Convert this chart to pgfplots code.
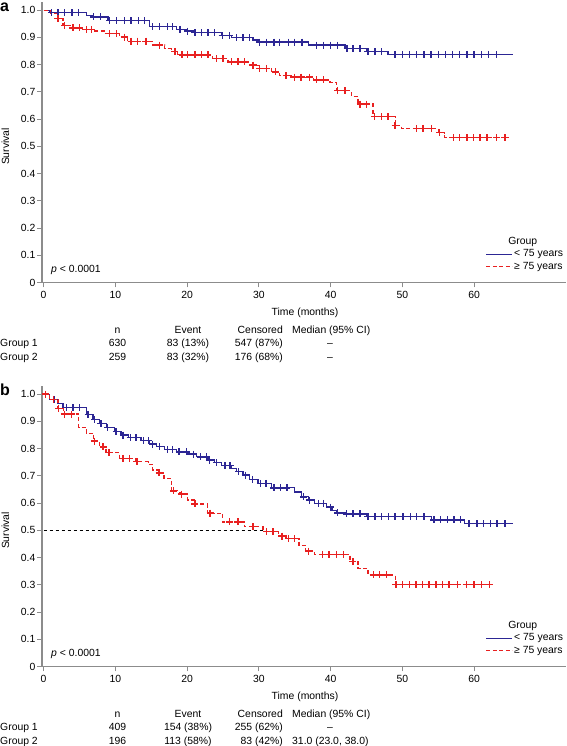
\documentclass[border=0pt]{standalone}
\usepackage{fontspec}
\setmainfont{Liberation Sans}
\usepackage{pgfplots}
\pgfplotsset{compat=1.18}
\definecolor{kmblue}{RGB}{44,38,148}
\definecolor{kmred}{RGB}{232,32,32}
\definecolor{axgray}{RGB}{140,140,140}
\newcommand\lf{\fontsize{10.4}{12.5}\selectfont}

\pgfplotsset{
 kmaxis/.style={
  scale only axis, width=523.9pt, height=280.5pt,
  xmin=-0.2, xmax=72.8, ymin=0, ymax=1.03,
  axis x line*=bottom, axis y line*=left,
  axis line style={axgray, line width=1.8pt, -},
  tick align=outside, major tick length=5pt,
  tick style={axgray, line width=1pt},
  xtick={0,10,20,30,40,50,60}, xticklabels={0,10,20,30,40,50,60},
  ytick={0,0.1,0.2,0.3,0.4,0.5,0.6,0.7,0.8,0.9,1.0},
  yticklabels={0,0.1,0.2,0.3,0.4,0.5,0.6,0.7,0.8,0.9,1.0},
  ticklabel style={font=\lf, inner sep=1.5pt, text=black},
  xticklabel style={yshift=-2pt},
  /pgf/number format/assume math mode=true,
  clip=false,
  legend image code/.code={\draw[#1] (0pt,0pt) -- (26pt,0pt);},
  legend style={draw=none, fill=none, at={(axis description cs:0.997,0.123)}, anchor=north east,
    inner sep=0pt, row sep=0pt, font=\lf, nodes={inner sep=1.2pt, text height=7.6pt, text depth=2.2pt}},
  legend cell align=left,
 },
 bstep/.style={kmblue, line width=1.3pt, const plot, forget plot},
 rstep/.style={kmred, line width=1.3pt, const plot, forget plot, dash pattern=on 4pt off 2.5pt},
 bmark/.style={kmblue, only marks, mark=+, mark size=3.5pt, line width=1.4pt, forget plot},
 rmark/.style={kmred, only marks, mark=+, mark size=3.5pt, line width=1.4pt, forget plot},
}
\tikzset{tbl/.style={font=\lf, inner sep=0pt, text height=7.4pt, text depth=0pt}}

\begin{document}
\begin{tikzpicture}[x=1pt,y=1pt]
\path[use as bounding box] (0,0) rectangle (566,746);

% ---------------- Panel a ----------------
\begin{axis}[kmaxis, at={(42.1pt,463.5pt)}, anchor=south west]
\addplot[bstep] coordinates {(0,1.0) (0.8,0.991) (5.95,0.980) (6.9,0.975) (9.0,0.961) (14.8,0.939) (18.5,0.929) (19.9,0.923) (21.0,0.917) (24.8,0.906) (26.2,0.899) (29.2,0.890) (29.9,0.883) (36.9,0.872) (42.0,0.860) (45.0,0.848) (48.0,0.838) (65.4,0.838)};
\addplot[rstep] coordinates {(0,1.0) (1.0,0.990) (1.9,0.970) (2.7,0.944) (3.9,0.935) (5.5,0.929) (7.0,0.924) (8.5,0.914) (10.6,0.901) (11.7,0.886) (15.2,0.872) (16.9,0.859) (17.8,0.849) (18.7,0.836) (23.5,0.822) (25.7,0.810) (28.7,0.798) (29.9,0.786) (31.8,0.773) (32.9,0.760) (34.5,0.754) (37.6,0.744) (39.9,0.734) (40.8,0.704) (42.9,0.683) (43.8,0.655) (45.9,0.609) (49.0,0.576) (49.9,0.566) (55.0,0.550) (55.9,0.532) (64.3,0.532)};
\addplot[bmark] coordinates {(1.1,0.991) (2.0,0.991) (2.9,0.991) (3.95,0.991) (4.9,0.991) (7.0,0.975) (7.95,0.975) (9.2,0.961) (10.2,0.961) (11.3,0.961) (12.2,0.961) (13.2,0.961) (14.1,0.961) (15.2,0.939) (16.2,0.939) (17.3,0.939) (18.0,0.939) (19.0,0.929) (20.1,0.923) (21.1,0.917) (22.0,0.917) (22.9,0.917) (23.85,0.917) (24.9,0.906) (25.9,0.906) (26.9,0.899) (27.8,0.899) (28.7,0.899) (30.1,0.883) (31.1,0.883) (32.1,0.883) (32.9,0.883) (34.1,0.883) (35.0,0.883) (36.0,0.883) (38.0,0.872) (39.0,0.872) (40.0,0.872) (41.0,0.872) (42.3,0.860) (43.1,0.860) (44.1,0.860) (45.2,0.848) (46.2,0.848) (47.1,0.848) (49,0.838) (50,0.838) (51,0.838) (52,0.838) (53,0.838) (54,0.838) (55,0.838) (56,0.838) (57,0.838) (58,0.838) (59,0.838) (60,0.838) (61,0.838) (62,0.838) (63.1,0.838)};
\addplot[rmark] coordinates {(2.0,0.970) (2.9,0.944) (4.1,0.935) (5.0,0.935) (5.95,0.929) (6.7,0.929) (9.2,0.914) (10.2,0.914) (11.3,0.901) (12.2,0.886) (13.1,0.886) (14.3,0.886) (16.2,0.872) (18.3,0.849) (19.3,0.836) (20.1,0.836) (21.1,0.836) (22.0,0.836) (22.9,0.836) (24.1,0.822) (25.0,0.822) (26.2,0.810) (27.1,0.810) (28.0,0.810) (29.2,0.798) (30.1,0.786) (31.1,0.786) (32.3,0.773) (33.8,0.760) (35.0,0.754) (35.9,0.754) (37.1,0.754) (38.0,0.744) (39.0,0.744) (41.0,0.704) (42.0,0.704) (44.1,0.655) (45.0,0.655) (46.1,0.609) (47.1,0.609) (48.0,0.609) (49.0,0.576) (52.0,0.566) (52.9,0.566) (54.1,0.566) (55.2,0.550) (57.1,0.532) (58.0,0.532) (59.0,0.532) (59.9,0.532) (60.8,0.532) (61.8,0.532) (63.1,0.532) (64.3,0.532)};
\addlegendimage{kmblue, line width=1.3pt}
\addlegendentry{< 75 years}
\addlegendimage{kmred, line width=1.3pt, dash pattern=on 4pt off 2.5pt}
\addlegendentry{≥ 75 years}
\end{axis}

% ---------------- Panel b ----------------
\begin{axis}[kmaxis, at={(42.1pt,79.5pt)}, anchor=south west]
\addplot[black, line width=0.8pt, dash pattern=on 3.5pt off 2.5pt, forget plot] coordinates {(0,0.5) (31,0.5)};
\addplot[bstep] coordinates {(0,1.0) (0.84,0.981) (2.0,0.966) (2.7,0.951) (5.95,0.925) (6.9,0.907) (7.8,0.892) (8.75,0.878) (9.9,0.862) (10.8,0.850) (11.8,0.840) (13.6,0.829) (14.8,0.817) (15.7,0.807) (16.9,0.797) (18.5,0.788) (20.1,0.780) (21.3,0.770) (22.9,0.758) (23.85,0.749) (24.8,0.737) (26.2,0.727) (26.9,0.715) (27.8,0.703) (28.7,0.687) (29.9,0.672) (31.8,0.656) (35.0,0.641) (35.9,0.623) (36.9,0.611) (37.8,0.599) (39.4,0.585) (40.2,0.574) (40.8,0.564) (42.0,0.560) (45.0,0.550) (54.1,0.538) (58.7,0.524) (65.4,0.524)};
\addplot[rstep] coordinates {(0,1.0) (0.84,0.981) (2.0,0.947) (2.8,0.927) (4.9,0.878) (5.95,0.856) (7.0,0.828) (7.8,0.806) (8.7,0.786) (10.6,0.764) (12.9,0.752) (14.6,0.743) (15.2,0.721) (16.0,0.711) (16.8,0.690) (17.8,0.645) (19.0,0.633) (20.1,0.611) (21.0,0.597) (22.8,0.563) (24.9,0.531) (28.0,0.513) (30.6,0.495) (32.7,0.479) (33.8,0.470) (35.6,0.445) (36.5,0.424) (37.8,0.412) (42.7,0.385) (43.8,0.360) (45.2,0.336) (49.0,0.300) (62.2,0.300)};
\addplot[bmark] coordinates {(1.5,0.981) (3.2,0.951) (4.1,0.951) (5.0,0.951) (6.2,0.925) (7.1,0.907) (8.0,0.892) (8.95,0.878) (10.1,0.862) (11.1,0.850) (12.1,0.840) (12.9,0.840) (13.9,0.829) (14.6,0.829) (15.2,0.817) (16.2,0.807) (17.3,0.797) (18.0,0.797) (18.9,0.788) (19.9,0.788) (20.9,0.780) (21.9,0.770) (22.7,0.770) (23.1,0.758) (24.1,0.749) (25.3,0.737) (26.0,0.737) (27.2,0.715) (28.1,0.703) (29.1,0.687) (30.2,0.672) (31.0,0.672) (32.1,0.656) (33.0,0.656) (33.9,0.656) (36.2,0.623) (37.1,0.611) (38.3,0.599) (39.0,0.599) (40.0,0.585) (41.0,0.564) (42.2,0.560) (43.1,0.560) (44.1,0.560) (45.2,0.550) (46.2,0.550) (47.1,0.550) (48.1,0.550) (49.0,0.550) (50.1,0.550) (51.1,0.550) (52.0,0.550) (53.0,0.550) (54.4,0.538) (55.3,0.538) (56.3,0.538) (57.2,0.538) (58.1,0.538) (59.3,0.524) (60.4,0.524) (61.3,0.524) (62.3,0.524) (63.2,0.524) (64.3,0.524)};
\addplot[rmark] coordinates {(0.3,1.0) (1.4,0.981) (2.1,0.947) (2.9,0.927) (3.9,0.927) (7.1,0.828) (8.3,0.806) (9.1,0.786) (11.1,0.764) (12.0,0.764) (13.0,0.752) (16.1,0.711) (18.1,0.645) (19.2,0.633) (21.1,0.597) (23.2,0.563) (25.9,0.531) (27.1,0.531) (29.2,0.513) (31.1,0.495) (32.0,0.495) (33.2,0.479) (34.1,0.470) (35.0,0.470) (36.9,0.424) (38.9,0.412) (39.8,0.412) (40.8,0.412) (41.8,0.412) (43.1,0.385) (46.0,0.336) (46.8,0.336) (47.8,0.336) (49.1,0.300) (50.0,0.300) (51.0,0.300) (51.9,0.300) (52.8,0.300) (53.7,0.300) (54.7,0.300) (55.6,0.300) (56.5,0.300) (57.7,0.300) (58.9,0.300) (60.0,0.300) (61.0,0.300) (62.1,0.300)};
\addlegendimage{kmblue, line width=1.3pt}
\addlegendentry{< 75 years}
\addlegendimage{kmred, line width=1.3pt, dash pattern=on 4pt off 2.5pt}
\addlegendentry{≥ 75 years}
\end{axis}

% ---------------- texts ----------------
\foreach \off/\lab in {0/a, 384/b} {
  \node[anchor=base west, inner sep=0pt, font=\fontsize{16}{16}\bfseries] at (0, 734-\off) {\lab};
  \node[rotate=90, font=\lf, inner sep=0pt] at (5.5, 599.5-\off) {Survival};
  \node[anchor=west, font=\lf, inner sep=0pt, text height=7.4pt, text depth=0pt] at (51, 476.7-\off) {\textit{p} < 0.0001};
  \node[font=\lf, inner sep=0pt] at (522.7, 504-\off) {Group};
  \node[tbl, anchor=center] at (305, 433.7-\off) {Time (months)};
  \node[tbl, anchor=center] at (117.5, 416.3-\off) {n};
  \node[tbl, anchor=center] at (188, 416.3-\off) {Event};
  \node[tbl, anchor=east] at (283, 416.3-\off) {Censored};
  \node[tbl, anchor=west] at (292, 416.3-\off) {Median (95\% CI)};
  \node[tbl, anchor=west] at (0, 403-\off) {Group 1};
  \node[tbl, anchor=west] at (0, 389-\off) {Group 2};
}
% panel a table values
\node[tbl] at (117.5, 403) {630};
\node[tbl] at (188, 403) {83 (13\%)};
\node[tbl, anchor=east] at (283, 403) {547 (87\%)};
\node[tbl] at (330, 403) {–};
\node[tbl] at (117.5, 389) {259};
\node[tbl] at (188, 389) {83 (32\%)};
\node[tbl, anchor=east] at (283, 389) {176 (68\%)};
\node[tbl] at (330, 389) {–};
% panel b table values
\node[tbl] at (117.5, 19) {409};
\node[tbl] at (188, 19) {154 (38\%)};
\node[tbl, anchor=east] at (283, 19) {255 (62\%)};
\node[tbl] at (330, 19) {–};
\node[tbl] at (117.5, 5) {196};
\node[tbl] at (188, 5) {113 (58\%)};
\node[tbl, anchor=east] at (283, 5) {83 (42\%)};
\node[tbl, anchor=west] at (292, 5) {31.0 (23.0, 38.0)};
\end{tikzpicture}
\end{document}
